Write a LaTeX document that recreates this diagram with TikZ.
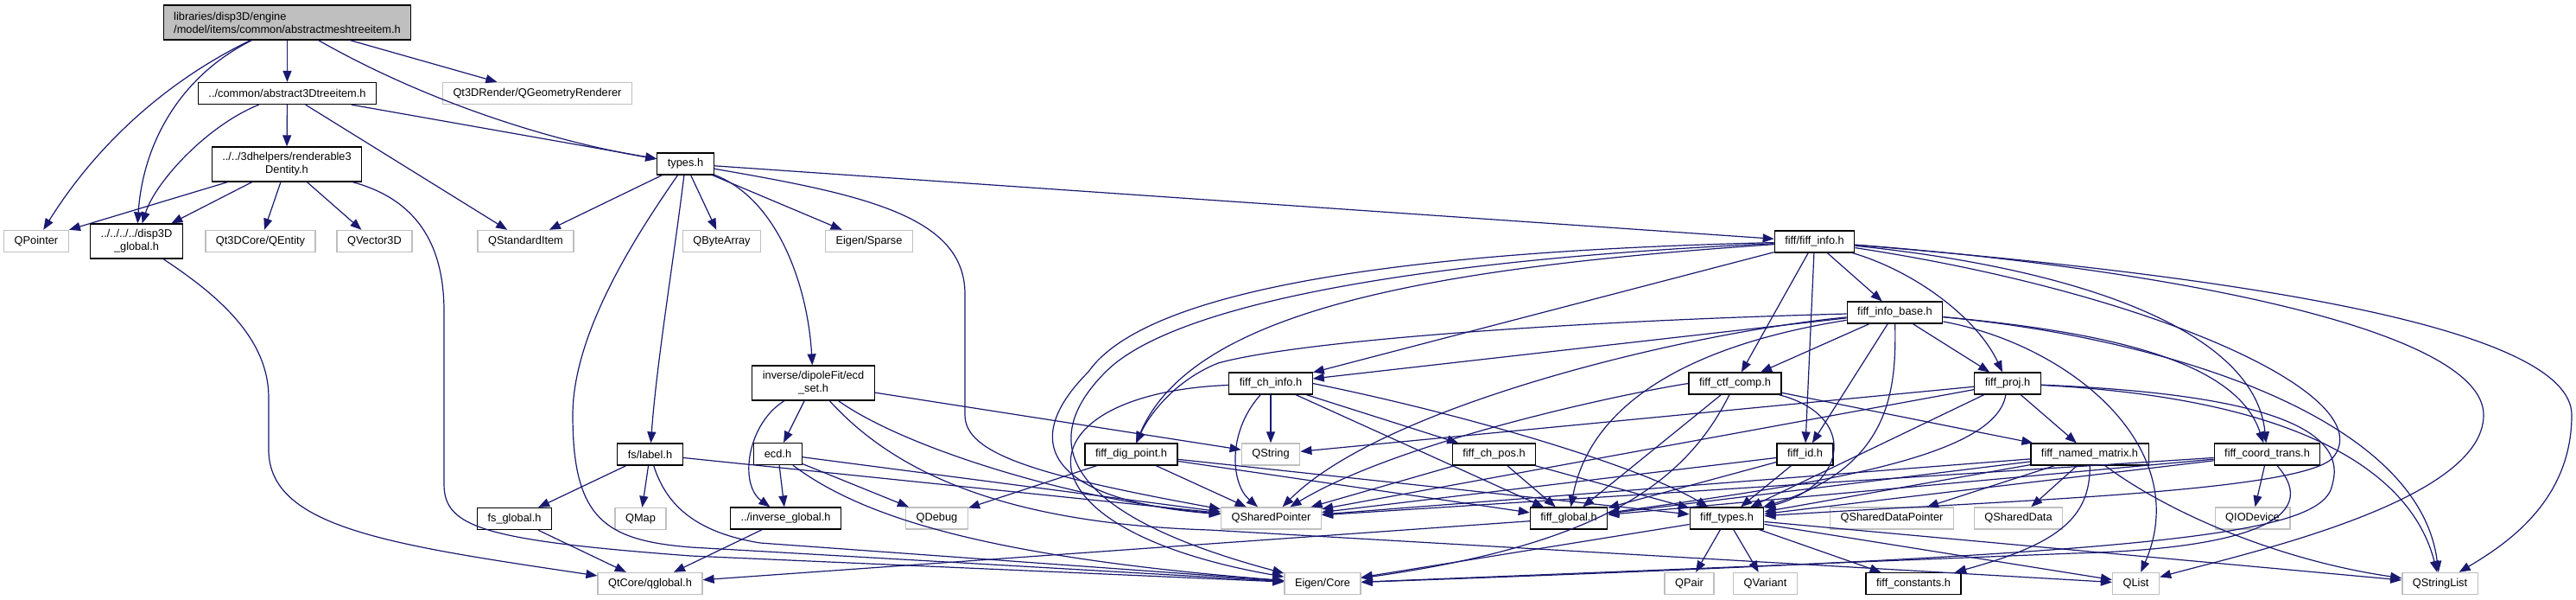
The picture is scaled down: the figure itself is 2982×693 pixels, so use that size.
\documentclass[tikz,border=0pt]{standalone}
\usepackage{fontspec}
\setmainfont{Liberation Sans}
\usetikzlibrary{arrows.meta}
\definecolor{dxblue}{HTML}{191970}
\definecolor{dxgray}{HTML}{BFBFBF}
\newcommand{\dxfont}{\fontsize{3.64pt}{4.3pt}\selectfont}
\tikzset{
  file/.style={
    draw=black,
    line width=0.012cm,
    fill=white,
    font=\dxfont,
    inner xsep=0.12cm,
    inner ysep=0pt,
    minimum height=0.25cm,
    align=center
  },
  qtfile/.style={
    file,
    draw=dxgray,
    line width=0.014cm
  },
  twoline/.style={
    minimum height=0.4cm
  },
  rootfile/.style={
    file,
    twoline,
    fill=dxgray,
    align=left
  },
  incl/.style={
    -{Triangle[length=0.13cm, width=0.1cm]},
    draw=dxblue,
    line width=0.012cm
  }
}

\begin{document}
\begin{tikzpicture}[x=0.01cm, y=-0.01cm]
  \useasboundingbox (0,0) rectangle (2982,693);

  %% ---- disp3D files (upper left) ----
  \node[rootfile] (root) at (332.5,26) {libraries/disp3D/engine\\/model/items/common/abstractmeshtreeitem.h};
  \node[file] (a3d) at (332.5,108) {../common/abstract3Dtreeitem.h};
  \node[qtfile] (geo) at (622,108) {Qt3DRender/QGeometryRenderer};
  \node[file, twoline] (rend) at (332,190) {../../3dhelpers/renderable3\\Dentity.h};
  \node[file] (types) at (793.5,189.5) {types.h};

  % row of first level headers
  \node[qtfile] (QPointer) at (42,279) {QPointer};
  \node[file, twoline] (d3dg) at (158,279) {../../../../disp3D\\\_global.h};
  \node[qtfile] (QEntity) at (301.5,279) {Qt3DCore/QEntity};
  \node[qtfile] (QVector) at (433.5,279) {QVector3D};
  \node[qtfile] (QStdItem) at (608.5,279) {QStandardItem};
  \node[qtfile] (QByteArray) at (835.5,279) {QByteArray};
  \node[qtfile] (EigenSparse) at (1006,279) {Eigen/Sparse};

  %% ---- fiff / fs / inverse files ----
  \node[file] (finfo) at (2100.5,279.5) {fiff/fiff\_info.h};
  \node[file] (finfobase) at (2193.5,361.5) {fiff\_info\_base.h};
  \node[file, twoline] (ecdset) at (941.5,443) {inverse/dipoleFit/ecd\\\_set.h};
  \node[file] (fchinfo) at (1471,443.5) {fiff\_ch\_info.h};
  \node[file] (fctf) at (2008.5,443.5) {fiff\_ctf\_comp.h};
  \node[file] (fproj) at (2324,443.5) {fiff\_proj.h};

  \node[file] (fslabel) at (752.5,525.5) {fs/label.h};
  \node[file] (ecd) at (900.5,525) {ecd.h};
  \node[file] (fdig) at (1309.5,525.5) {fiff\_dig\_point.h};
  \node[qtfile] (QString) at (1471,525.5) {QString};
  \node[file] (fchpos) at (1729.5,525.5) {fiff\_ch\_pos.h};
  \node[file] (fid) at (2089.5,525.5) {fiff\_id.h};
  \node[file] (fnamed) at (2419,525.5) {fiff\_named\_matrix.h};
  \node[file] (fcoord) at (2624.5,525.5) {fiff\_coord\_trans.h};

  \node[file] (fsglobal) at (595.5,600) {fs\_global.h};
  \node[qtfile] (QMap) at (741.5,600) {QMap};
  \node[file] (invglobal) at (909.5,599.5) {../inverse\_global.h};
  \node[qtfile] (QDebug) at (1084.5,599.5) {QDebug};
  \node[qtfile] (QSP) at (1471.5,599.5) {QSharedPointer};
  \node[file] (fglobal) at (1816,599.5) {fiff\_global.h};
  \node[file] (ftypes) at (1999,599.5) {fiff\_types.h};
  \node[qtfile] (QSDP) at (2190,599.5) {QSharedDataPointer};
  \node[qtfile] (QSD) at (2336.5,599.5) {QSharedData};
  \node[qtfile] (QIODevice) at (2607.5,599.5) {QIODevice};

  % bottom row
  \node[qtfile] (qglobal) at (752.5,675) {QtCore/qglobal.h};
  \node[qtfile] (EigenCore) at (1531,675) {Eigen/Core};
  \node[qtfile] (QPair) at (1955.5,675) {QPair};
  \node[qtfile] (QVariant) at (2043.5,675) {QVariant};
  \node[file] (fconst) at (2215,675) {fiff\_constants.h};
  \node[qtfile] (QList) at (2472.5,675) {QList};
  \node[qtfile] (QStringList) at (2824.5,675) {QStringList};

  %% ---- includes of the root file ----
  \draw[incl] (root) .. controls (190,95) and (110,170) .. (QPointer);
  \draw[incl] (root) .. controls (205,90) and (165,170) .. (d3dg);
  \draw[incl] (root) -- (a3d);
  \draw[incl] (root) .. controls (480,110) and (620,160) .. (types);
  \draw[incl] (root) -- (geo);

  %% ---- abstract3Dtreeitem / renderable3Dentity ----
  \draw[incl] (a3d) -- (rend);
  \draw[incl] (a3d) .. controls (240,145) and (180,210) .. (d3dg);
  \draw[incl] (a3d) -- (QStdItem);
  \draw[incl] (a3d) -- (types);
  \draw[incl] (rend) -- (QPointer.north east);
  \draw[incl] (rend) -- (d3dg);
  \draw[incl] (rend) -- (QEntity);
  \draw[incl] (rend) -- (QVector);
  \draw[incl] (rend) .. controls (480,230) and (514,280) .. (514,360) -- (514,560)
      .. controls (514,610) and (560,625) .. (800,643) -- (EigenCore);
  \draw[incl] (d3dg) .. controls (250,340) and (311,390) .. (311,460) -- (311,520)
      .. controls (311,610) and (450,630) .. (qglobal);

  %% ---- types.h ----
  \draw[incl] (types) -- (QStdItem);
  \draw[incl] (types) -- (QByteArray);
  \draw[incl] (types) -- (EigenSparse);
  \draw[incl] (types) -- (finfo);
  \draw[incl] (types) .. controls (780,300) and (760,420) .. (fslabel);
  \draw[incl] (types) .. controls (745,260) and (663,380) .. (663,480)
      .. controls (663,600) and (700,625) .. (800,633) -- (EigenCore);
  \draw[incl] (types) .. controls (900,230) and (935,330) .. (ecdset);
  \draw[incl] (types) .. controls (1000,225) and (1117,250) .. (1117,340) -- (1117,480)
      .. controls (1117,525) and (1200,550) .. (QSP);

  %% ---- fs and inverse ----
  \draw[incl] (fslabel) -- (fsglobal);
  \draw[incl] (fslabel) -- (QMap);
  \draw[incl] (fslabel) .. controls (770,580) and (800,615) .. (880,628) -- (EigenCore);
  \draw[incl] (fslabel) -- (QSP);
  \draw[incl] (fsglobal) -- (qglobal);
  \draw[incl] (invglobal) -- (qglobal);
  \draw[incl] (ecdset) -- (ecd);
  \draw[incl] (ecdset) .. controls (865,490) and (855,560) .. (invglobal);
  \draw[incl] (ecdset) -- (QString);
  \draw[incl] (ecdset) .. controls (1050,520) and (1250,580) .. (QSP);
  \draw[incl] (ecdset) .. controls (1030,540) and (1150,605) .. (1400,613) -- (QList);
  \draw[incl] (ecd) -- (invglobal);
  \draw[incl] (ecd) -- (QDebug);
  \draw[incl] (ecd) .. controls (1000,600) and (1150,645) .. (EigenCore);
  \draw[incl] (ecd) -- (QSP);

  %% ---- fiff_info.h ----
  \draw[incl] (finfo) .. controls (1650,290) and (1330,330) .. (1260,430)
      .. controls (1170,520) and (1230,580) .. (QSP);
  \draw[incl] (finfo) .. controls (1650,300) and (1360,350) .. (1280,430)
      .. controls (1190,520) and (1250,600) .. (EigenCore);
  \draw[incl] (finfo) .. controls (1650,310) and (1380,360) .. (fdig);
  \draw[incl] (finfo) -- (fchinfo);
  \draw[incl] (finfo) -- (fctf);
  \draw[incl] (finfo) -- (fid);
  \draw[incl] (finfo) -- (finfobase);
  \draw[incl] (finfo) .. controls (2220,315) and (2290,370) .. (fproj);
  \draw[incl] (finfo) .. controls (2400,310) and (2610,380) .. (fcoord);
  \draw[incl] (finfo) .. controls (2500,310) and (2875,380) .. (2875,480)
      .. controls (2875,580) and (2600,640) .. (QList);
  \draw[incl] (finfo) .. controls (2600,320) and (2977,380) .. (2977,480)
      .. controls (2977,580) and (2900,630) .. (QStringList);
  \draw[incl] (finfo) .. controls (2500,340) and (2760,460) .. (2700,530)
      .. controls (2660,570) and (2300,580) .. (ftypes);

  %% ---- fiff_info_base.h ----
  \draw[incl] (finfobase) .. controls (1800,372) and (1500,395) .. (1410,420)
      .. controls (1360,440) and (1330,480) .. (fdig);
  \draw[incl] (finfobase) -- (fchinfo);
  \draw[incl] (finfobase) .. controls (1950,385) and (1600,470) .. (QSP);
  \draw[incl] (finfobase) .. controls (1950,400) and (1840,470) .. (fglobal);
  \draw[incl] (finfobase) -- (fctf);
  \draw[incl] (finfobase) -- (fid);
  \draw[incl] (finfobase) .. controls (2195,450) and (2190,540) .. (ftypes);
  \draw[incl] (finfobase) -- (fproj);
  \draw[incl] (finfobase) .. controls (2450,385) and (2590,420) .. (fcoord);
  \draw[incl] (finfobase) .. controls (2500,390) and (2800,480) .. (QStringList);
  \draw[incl] (finfobase) .. controls (2400,400) and (2540,520) .. (QList);

  %% ---- fiff_ch_info.h / fiff_dig_point.h / fiff_ch_pos.h ----
  \draw[incl] (fchinfo) -- (QString);
  \draw[incl] (fchinfo) .. controls (1420,500) and (1425,560) .. (QSP);
  \draw[incl] (fchinfo) -- (fglobal);
  \draw[incl] (fchinfo) -- (fchpos);
  \draw[incl] (fchinfo.east) .. controls (1700,480) and (1900,540) .. (ftypes);
  \draw[incl] (fchinfo) .. controls (1180,455) and (1160,610) .. (EigenCore);
  \draw[incl] (fdig) -- (QDebug);
  \draw[incl] (fdig) -- (QSP);
  \draw[incl] (fdig) -- (fglobal);
  \draw[incl] (fdig) -- (ftypes);
  \draw[incl] (fchpos) -- (QSP);
  \draw[incl] (fchpos) -- (fglobal);
  \draw[incl] (fchpos) -- (ftypes);

  %% ---- fiff_ctf_comp.h / fiff_id.h / fiff_proj.h ----
  \draw[incl] (fctf.west) .. controls (1880,455) and (1620,510) .. (QSP);
  \draw[incl] (fctf) -- (fglobal);
  \draw[incl] (fctf) .. controls (1950,560) and (1850,630) .. (EigenCore);
  \draw[incl] (fctf) .. controls (2150,480) and (2140,560) .. (ftypes);
  \draw[incl] (fctf) -- (fnamed);
  \draw[incl] (fid) -- (QSP);
  \draw[incl] (fid) -- (fglobal);
  \draw[incl] (fid) -- (ftypes);
  \draw[incl] (fproj) -- (QString);
  \draw[incl] (fproj) -- (QSP);
  \draw[incl] (fproj) .. controls (2310,530) and (2100,560) .. (fglobal);
  \draw[incl] (fproj) -- (ftypes);
  \draw[incl] (fproj) -- (fnamed);
  \draw[incl] (fproj) .. controls (2650,460) and (2790,540) .. (QStringList);
  \draw[incl] (fproj) .. controls (2600,455) and (2720,490) .. (2700,560)
      .. controls (2690,620) and (2500,640) .. (EigenCore);

  %% ---- fiff_named_matrix.h / fiff_coord_trans.h ----
  \draw[incl] (fnamed) -- (fglobal);
  \draw[incl] (fnamed) -- (ftypes);
  \draw[incl] (fnamed) -- (QSP);
  \draw[incl] (fnamed) -- (QSDP);
  \draw[incl] (fnamed) -- (QSD);
  \draw[incl] (fnamed) .. controls (2420,600) and (2380,630) .. (fconst);
  \draw[incl] (fnamed) .. controls (2520,600) and (2650,650) .. (QStringList);
  \draw[incl] (fcoord) -- (fglobal);
  \draw[incl] (fcoord) -- (ftypes);
  \draw[incl] (fcoord) -- (QSP);
  \draw[incl] (fcoord) -- (QIODevice);
  \draw[incl] (fcoord) .. controls (2690,600) and (2600,635) .. (2400,640) -- (EigenCore);

  %% ---- fiff_types.h / fiff_global.h ----
  \draw[incl] (ftypes) -- (QPair);
  \draw[incl] (ftypes) -- (QVariant);
  \draw[incl] (ftypes) -- (fconst);
  \draw[incl] (ftypes) -- (QList);
  \draw[incl] (ftypes) -- (QStringList);
  \draw[incl] (ftypes) -- (EigenCore);
  \draw[incl] (fglobal) -- (qglobal);

\end{tikzpicture}
\end{document}
